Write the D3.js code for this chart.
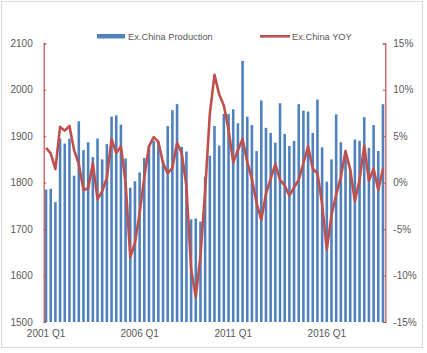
<!DOCTYPE html>
<html>
<head>
<meta charset="utf-8">
<script src="https://cdn.jsdelivr.net/npm/d3@7"></script>
<style>
  body { margin: 0; background: #fff; }
  text { font-family: "Liberation Sans", Arial, sans-serif; fill: #595959; }
</style>
</head>
<body>
<div id="chart"></div>
<script>
// quarterly data, 2001 Q1 .. 2019 Q1
var startYear = 2001, nQuarters = 73;
var quarters = [];
for (var i = 0; i < nQuarters; i++) {
  quarters.push((startYear + Math.floor(i / 4)) + " Q" + (i % 4 + 1));
}

var production = [
  1785, 1787, 1758, 1895, 1884, 1895, 1815, 1932, 1870, 1887,
  1855, 1895, 1850, 1883, 1942, 1945, 1925, 1852, 1789, 1803,
  1822, 1853, 1880, 1890, 1887, 1848, 1922, 1956, 1969, 1877,
  1867, 1721, 1723, 1716, 1813, 1858, 1922, 1880, 1948, 1948,
  1958, 1928, 2062, 1942, 1924, 1868, 1977, 1918, 1907, 1886,
  1971, 1905, 1879, 1890, 1969, 1955, 1953, 1907, 1979, 1876,
  1802, 1850, 1947, 1887, 1856, 1829, 1893, 1890, 1941, 1875,
  1924, 1868, 1969
];

var yoy = [
  3.75, 3.15, 1.45, 6.0, 5.6, 6.1, 3.5, 2.0, -0.8, -0.6,
  2.1, -1.8, -0.9, 0.5, 4.7, 3.2, 3.9, 0.0, -8.0, -6.5,
  -3.3, 0.6, 3.9, 4.9, 4.4, 2.1, 1.0, 1.6, 4.3, 3.2,
  -0.4, -9.3, -12.3, -7.9, -0.9, 7.4, 11.6, 9.5, 8.3, 5.7,
  2.2, 3.5, 4.7, 2.2, 0.4, -2.2, -4.0, -1.2, 0.4, 2.0,
  0.3, -0.3, -1.4, -0.5, 0.3, 2.1, 3.9, 1.5, 1.0, -2.3,
  -7.2, -3.5, -1.3, 0.6, 3.4, 1.4, -2.0, 0.3, 4.0, 0.2,
  1.5, -0.8, 1.5
];

var xTickLabels = ["2001 Q1", "2006 Q1", "2011 Q1", "2016 Q1"];
var leftTicks = [1500, 1600, 1700, 1800, 1900, 2000, 2100];
var rightTicks = [-15, -10, -5, 0, 5, 10, 15];
var seriesNames = ["Ex.China Production", "Ex.China YOY"];

var W = 427, H = 353;
var plotL = 43.7, plotR = 385.3, plotT = 43.3, plotB = 322;
var blue = "#4f81bd", red = "#c0504d";

var svg = d3.select("#chart").append("svg")
  .attr("width", W).attr("height", H);

// outer frame
svg.append("rect")
  .attr("x", 1.5).attr("y", 1.5).attr("width", W - 6).attr("height", H - 7)
  .attr("fill", "#fff").attr("stroke", "#d9d9d9");

var x = d3.scaleBand().domain(quarters).range([plotL, plotR])
  .paddingInner(0.45).paddingOuter(0.225);
var yL = d3.scaleLinear().domain([1500, 2100]).range([plotB, plotT]);
var yR = d3.scaleLinear().domain([-15, 15]).range([plotB, plotT]);

// bars
svg.append("g").selectAll("rect")
  .data(production)
  .enter().append("rect")
    .attr("x", function(d, i) { return x(quarters[i]); })
    .attr("y", function(d) { return yL(d); })
    .attr("width", x.bandwidth())
    .attr("height", function(d) { return yL(1500) - yL(d); })
    .attr("fill", blue);

// YOY line
var line = d3.line()
  .x(function(d, i) { return x(quarters[i]) + x.bandwidth() / 2; })
  .y(function(d) { return yR(d); });
svg.append("path")
  .datum(yoy)
  .attr("d", line)
  .attr("fill", "none")
  .attr("stroke", red)
  .attr("stroke-width", 2.6)
  .attr("stroke-linejoin", "round");

// left axis
var gL = svg.append("g").attr("transform", "translate(" + plotL + ",0)")
  .call(d3.axisLeft(yL).tickValues(leftTicks).tickFormat(d3.format("d"))
    .tickSize(-2.5).tickPadding(11));
gL.select(".domain").attr("stroke", red).attr("stroke-width", 1.2);
gL.selectAll(".tick line").attr("stroke", red);
gL.selectAll("text").attr("font-size", 10).style("fill", "#595959");

// right axis
var gR = svg.append("g").attr("transform", "translate(" + plotR + ",0)")
  .call(d3.axisRight(yR).tickValues(rightTicks).tickSize(-2.5)
    .tickFormat(function(d) { return d + "%"; }).tickPadding(8));
gR.select(".domain").attr("stroke", red).attr("stroke-width", 1.2);
gR.selectAll(".tick line").attr("stroke", red);
gR.selectAll("text").attr("font-size", 10).style("fill", "#595959");

// bottom axis labels
var gB = svg.append("g").attr("transform", "translate(0," + plotB + ")")
  .call(d3.axisBottom(x).tickValues(xTickLabels).tickSize(0).tickPadding(8));
gB.select(".domain").remove();
gB.selectAll("text").attr("font-size", 10).style("fill", "#595959");

// legend
var lg = svg.append("g");
lg.append("rect").attr("x", 97).attr("y", 34).attr("width", 28).attr("height", 4.5).attr("fill", blue);
lg.append("text").attr("x", 128).attr("y", 39.5).attr("font-size", 9.3).text(seriesNames[0]);
lg.append("line").attr("x1", 260).attr("x2", 290).attr("y1", 36.3).attr("y2", 36.3)
  .attr("stroke", red).attr("stroke-width", 2.6);
lg.append("text").attr("x", 292).attr("y", 39.5).attr("font-size", 9.3).text(seriesNames[1]);
</script>
</body>
</html>
